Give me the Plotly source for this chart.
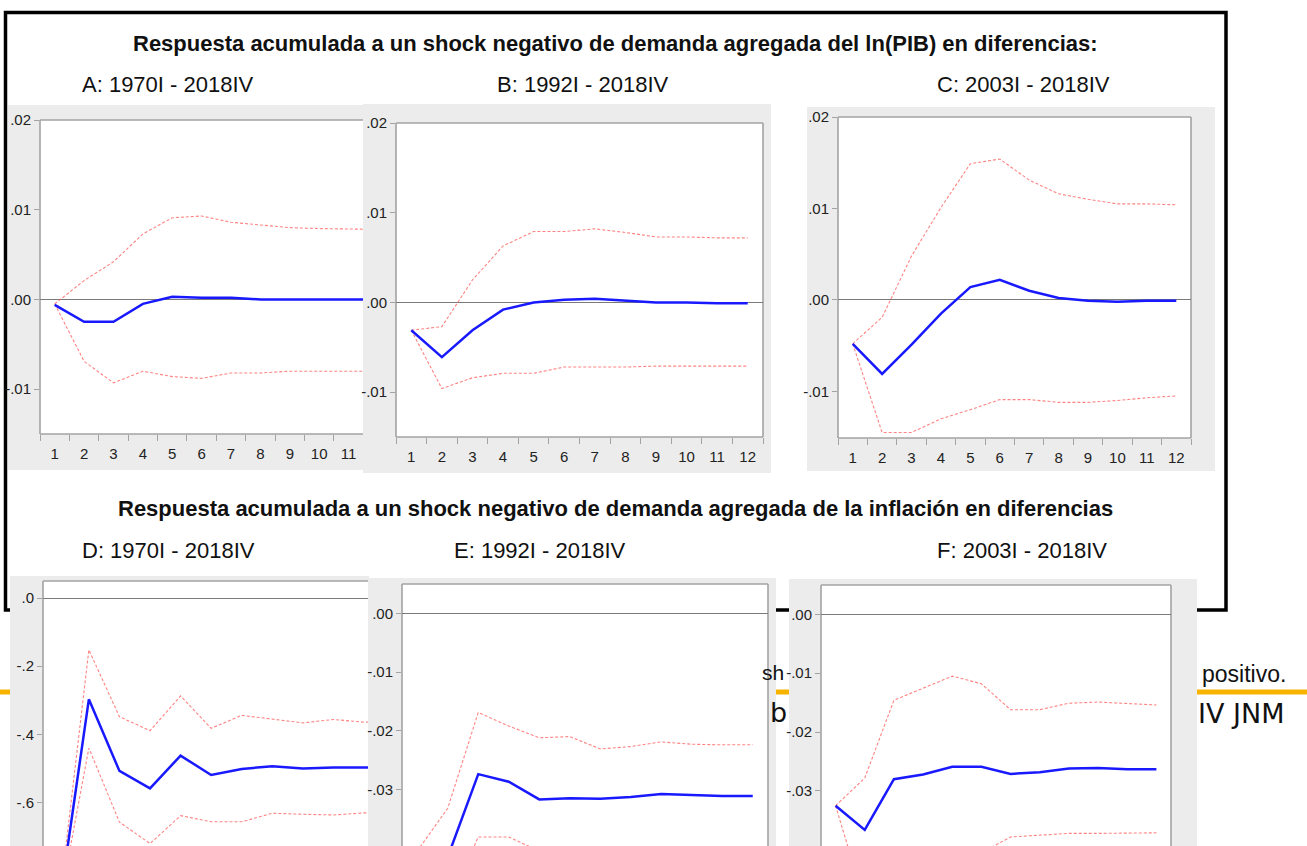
import plotly.graph_objects as go

W, H = 1307, 846

# ---------------- data ----------------
periods = list(range(1, 13))

A_resp = [-0.0006, -0.0025, -0.0025, -0.0005, 0.0003, 0.0002, 0.0002, 0.0000, 0.0000, 0.0000, 0.0000, 0.0000]
A_up = [-0.0005, 0.0021, 0.0042, 0.0073, 0.0091, 0.0093, 0.0086, 0.0083, 0.0080, 0.0079, 0.0078, 0.0078]
A_lo = [-0.0005, -0.0069, -0.0093, -0.0080, -0.0086, -0.0088, -0.0082, -0.0082, -0.0080, -0.0080, -0.0080, -0.0080]

B_resp = [-0.0031, -0.0061, -0.0031, -0.0008, 0.0000, 0.0003, 0.0004, 0.0002, 0.0000, 0.0000, -0.0001, -0.0001]
B_up = [-0.0031, -0.0027, 0.0025, 0.0063, 0.0079, 0.0079, 0.0082, 0.0078, 0.0073, 0.0073, 0.0072, 0.0072]
B_lo = [-0.0031, -0.0096, -0.0084, -0.0079, -0.0079, -0.0072, -0.0072, -0.0072, -0.0071, -0.0071, -0.0071, -0.0071]

C_resp = [-0.0048, -0.0081, -0.0049, -0.0015, 0.0014, 0.0022, 0.0010, 0.0002, -0.0001, -0.0002, -0.0001, -0.0001]
C_up = [-0.0048, -0.0019, 0.0048, 0.0101, 0.0149, 0.0154, 0.0131, 0.0116, 0.0110, 0.0105, 0.0105, 0.0104]
C_lo = [-0.0048, -0.0145, -0.0145, -0.0130, -0.0120, -0.0109, -0.0109, -0.0112, -0.0112, -0.0110, -0.0107, -0.0105]

D_resp = [-0.92, -0.297, -0.507, -0.558, -0.462, -0.519, -0.501, -0.493, -0.500, -0.497, -0.497, -0.497]
D_up = [-0.92, -0.152, -0.348, -0.389, -0.287, -0.382, -0.344, -0.356, -0.366, -0.356, -0.364, -0.360]
D_lo = [-0.92, -0.440, -0.657, -0.720, -0.638, -0.656, -0.656, -0.631, -0.634, -0.636, -0.630, -0.630]

E_resp = [-0.0405, -0.0415, -0.0274, -0.0287, -0.0317, -0.0315, -0.0316, -0.0313, -0.0308, -0.0310, -0.0311, -0.0311]
E_up = [-0.0405, -0.0332, -0.0169, -0.0192, -0.0212, -0.0210, -0.0231, -0.0227, -0.0219, -0.0223, -0.0224, -0.0224]
E_lo = [-0.0405, -0.0500, -0.0381, -0.0381, -0.0405, -0.0410, -0.0415, -0.0412, -0.0410, -0.0412, -0.0412, -0.0412]

F_resp = [-0.0325, -0.0366, -0.0280, -0.0272, -0.0259, -0.0259, -0.0271, -0.0268, -0.0262, -0.0261, -0.0263, -0.0263]
F_up = [-0.0325, -0.0278, -0.0146, -0.0126, -0.0105, -0.0118, -0.0162, -0.0162, -0.0151, -0.0149, -0.0151, -0.0154]
F_lo = [-0.0325, -0.0490, -0.0470, -0.0450, -0.0430, -0.0405, -0.0378, -0.0375, -0.0372, -0.0372, -0.0371, -0.0371]

ytick_top_vals = [-0.01, 0.0, 0.01, 0.02]
ytick_top_text = ["-.01", ".00", ".01", ".02"]
ytick_D_vals = [-0.6, -0.4, -0.2, 0.0]
ytick_D_text = ["-.6", "-.4", "-.2", ".0"]
ytick_EF_vals = [-0.04, -0.03, -0.02, -0.01, 0.0]
ytick_EF_text = ["-.04", "-.03", "-.02", "-.01", ".00"]

panel_labels = ["A: 1970I - 2018IV", "B: 1992I - 2018IV", "C: 2003I - 2018IV",
                "D: 1970I - 2018IV", "E: 1992I - 2018IV", "F: 2003I - 2018IV"]
title_top = "Respuesta acumulada a un shock negativo de demanda agregada del ln(PIB) en diferencias:"
title_bottom = "Respuesta acumulada a un shock negativo de demanda agregada de la inflación en diferencias"

series = [(A_resp, A_up, A_lo), (B_resp, B_up, B_lo), (C_resp, C_up, C_lo),
          (D_resp, D_up, D_lo), (E_resp, E_up, E_lo), (F_resp, F_up, F_lo)]

# ---------------- layout helpers ----------------
def fx(px):
    return px / W

def fy(py):
    return 1 - py / H

# plot box (px), gray panel box (px), x range end, y range, ticks, frame sides
panels = [
    dict(plot=(40, 120, 363, 434), gray=(8, 105, 363, 470), xend=11.49, yr=(-0.015, 0.02),
         tv=ytick_top_vals, tt=ytick_top_text, right=False, bottom=True),
    dict(plot=(396, 123, 763, 437), gray=(363, 104, 771, 473), xend=12.5, yr=(-0.015, 0.02),
         tv=ytick_top_vals, tt=ytick_top_text, right=True, bottom=True),
    dict(plot=(838, 117, 1191, 438), gray=(807, 107, 1215, 471), xend=12.5, yr=(-0.0151, 0.02),
         tv=ytick_top_vals, tt=ytick_top_text, right=True, bottom=True),
    dict(plot=(43, 581, 368, 846), gray=(10, 576, 369, 846), xend=11.13, yr=(-0.727, 0.0499),
         tv=ytick_D_vals, tt=ytick_D_text, right=False, bottom=False),
    dict(plot=(402, 584, 768, 846), gray=(369, 578, 776, 846), xend=12.5, yr=(-0.03964, 0.0050),
         tv=ytick_EF_vals, tt=ytick_EF_text, right=True, bottom=False),
    dict(plot=(821, 585, 1171, 846), gray=(789, 579, 1197, 846), xend=12.5, yr=(-0.03934, 0.00497),
         tv=ytick_EF_vals, tt=ytick_EF_text, right=True, bottom=False),
]

BLUE = "rgb(25,25,255)"
RED = "rgba(255,90,90,0.75)"
FRAME = "#a3a3a3"
GRAY_BG = "#ececec"
TICKFONT = dict(family="Liberation Sans, Arial, sans-serif", size=15, color="#222222")

fig = go.Figure()
shapes = []
layout_axes = {}

# Outer black box and background decorations (drawn first, beneath panels)
shapes.append(dict(type="rect", xref="paper", yref="paper", layer="below",
                   x0=fx(5.5), x1=fx(1226), y0=fy(610), y1=fy(12.5),
                   line=dict(color="black", width=3.5), fillcolor="rgba(0,0,0,0)"))
shapes.append(dict(type="line", xref="paper", yref="paper", layer="below",
                   x0=0, x1=1, y0=fy(692), y1=fy(692),
                   line=dict(color="#f6b300", width=5)))

minor_vals = [p - 0.5 for p in periods] + [periods[-1] + 0.5]

for i, (pn, (resp, up, lo)) in enumerate(zip(panels, series)):
    n = "" if i == 0 else str(i + 1)
    xa, ya = "x" + n, "y" + n
    x0, y0, x1, y1 = pn["plot"]
    g0, gy0, g1, gy1 = pn["gray"]

    # gray panel + white plot area + frame
    shapes.append(dict(type="rect", xref="paper", yref="paper", layer="below",
                       x0=fx(g0), x1=fx(g1), y0=fy(gy1), y1=fy(gy0),
                       line=dict(width=0), fillcolor=GRAY_BG))
    shapes.append(dict(type="rect", xref="paper", yref="paper", layer="below",
                       x0=fx(x0), x1=fx(x1), y0=fy(y1), y1=fy(y0),
                       line=dict(width=0), fillcolor="white"))
    frame = [((x0, y0), (x1, y0)), ((x0, y0), (x0, y1))]
    if pn["right"]:
        frame.append(((x1, y0), (x1, y1)))
    if pn["bottom"]:
        frame.append(((x0, y1), (x1, y1)))
    for (a, b), (c, d) in frame:
        shapes.append(dict(type="line", xref="paper", yref="paper", layer="below",
                           x0=fx(a), x1=fx(c), y0=fy(b), y1=fy(d),
                           line=dict(color=FRAME, width=1.6)))

    for vals, color, width, dash in ((up, RED, 1.1, "3px,2px"),
                                     (lo, RED, 1.1, "3px,2px"),
                                     (resp, BLUE, 2.5, "solid")):
        fig.add_trace(go.Scatter(x=periods, y=vals, mode="lines", xaxis=xa, yaxis=ya,
                                 line=dict(color=color, width=width, dash=dash),
                                 showlegend=False, hoverinfo="skip"))

    xkey = "xaxis" + n
    ykey = "yaxis" + n
    xdict = dict(domain=[fx(x0), fx(x1)], range=[0.5, pn["xend"]], anchor=ya,
                 showgrid=False, zeroline=False, showline=False, fixedrange=True,
                 automargin=False)
    if pn["bottom"]:
        xdict.update(tickmode="array", tickvals=periods, ticktext=[str(p) for p in periods],
                     ticks="outside", ticklen=6, tickcolor="rgba(0,0,0,0)",
                     tickfont=TICKFONT,
                     minor=dict(tickmode="array", tickvals=minor_vals, ticks="outside",
                                ticklen=6, tickcolor=FRAME, tickwidth=1.2, showgrid=False))
    else:
        xdict.update(showticklabels=False, ticks="")
    ydict = dict(domain=[fy(y1), fy(y0)], range=list(pn["yr"]), anchor=xa,
                 showgrid=False, showline=False, fixedrange=True, automargin=False,
                 zeroline=True, zerolinecolor="#7a7a7a", zerolinewidth=1.3,
                 tickmode="array", tickvals=pn["tv"], ticktext=pn["tt"],
                 ticks="outside", ticklen=5, tickcolor=FRAME, tickwidth=1.2,
                 tickfont=TICKFONT)
    layout_axes[xkey] = xdict
    layout_axes[ykey] = ydict

TXT = "Liberation Sans, Arial, sans-serif"
annotations = [
    dict(text="<b>" + title_top + "</b>", x=fx(615), y=fy(43), xanchor="center", yanchor="middle",
         font=dict(family=TXT, size=22, color="#111111")),
    dict(text="<b>" + title_bottom + "</b>", x=fx(615), y=fy(508), xanchor="center", yanchor="middle",
         font=dict(family=TXT, size=22, color="#111111")),
]
label_pos = [(80, 85), (495, 85), (935, 85), (80, 550), (452, 550), (935, 550)]
for lab, (px, py) in zip(panel_labels, label_pos):
    annotations.append(dict(text=lab, x=fx(px), y=fy(py), xanchor="left", yanchor="middle",
                            font=dict(family=TXT, size=22, color="#111111")))
# background fragments of the underlying slide
annotations += [
    dict(text="positivo.", x=fx(1200), y=fy(674), xanchor="left", yanchor="middle",
         font=dict(family=TXT, size=23, color="#111111")),
    dict(text="IV JNM", x=fx(1196), y=fy(713), xanchor="left", yanchor="middle",
         font=dict(family="DejaVu Sans, Verdana, sans-serif", size=27, color="#111111")),
    dict(text="sh", x=fx(786), y=fy(672), xanchor="right", yanchor="middle",
         font=dict(family=TXT, size=21, color="#111111")),
    dict(text="b", x=fx(789), y=fy(712), xanchor="right", yanchor="middle",
         font=dict(family="DejaVu Sans, Verdana, sans-serif", size=27, color="#111111")),
]
for a in annotations:
    a.update(xref="paper", yref="paper", showarrow=False)

fig.update_layout(
    width=W, height=H, autosize=False,
    margin=dict(l=0, r=0, t=0, b=0, pad=0, autoexpand=False),
    paper_bgcolor="white", plot_bgcolor="rgba(0,0,0,0)",
    shapes=shapes, annotations=annotations, showlegend=False,
    **layout_axes,
)

fig.write_html("out.html", config={"displayModeBar": False},
               post_script="document.body.style.margin='0';")
